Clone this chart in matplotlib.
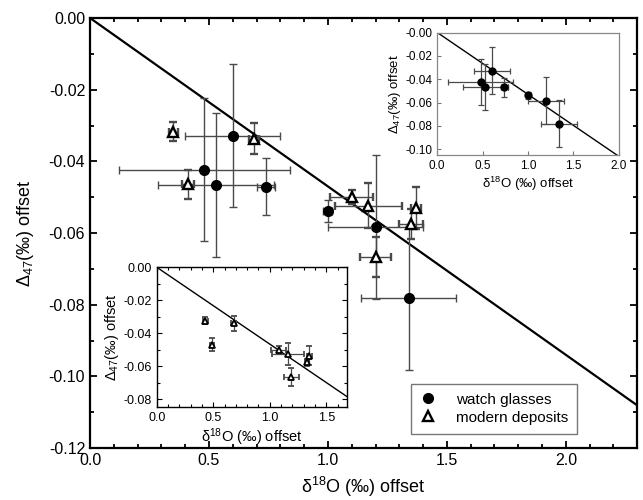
import matplotlib
matplotlib.use("Agg")
import matplotlib.pyplot as plt
from matplotlib.lines import Line2D
from matplotlib.ticker import MultipleLocator
import numpy as np

plt.rcParams["font.family"] = ["Liberation Sans", "DejaVu Sans"]
plt.rcParams["mathtext.fontset"] = "custom"
plt.rcParams["mathtext.rm"] = "Liberation Sans"
plt.rcParams["mathtext.it"] = "Liberation Sans:italic"

# watch glasses (filled circles)
glass_x = [0.48, 0.53, 0.60, 0.74, 1.00, 1.20, 1.34]
glass_y = [-0.0423, -0.0466, -0.0328, -0.0471, -0.0538, -0.0583, -0.0781]
glass_xerr = [0.36, 0.245, 0.20, 0.037, 0.019, 0.20, 0.20]
glass_yerr = [0.020, 0.020, 0.020, 0.008, 0.003, 0.020, 0.020]

# modern deposits (open triangles)
dep_x = [0.35, 0.41, 0.69, 1.10, 1.17, 1.20, 1.35, 1.37]
dep_y = [-0.0317, -0.0464, -0.0337, -0.0499, -0.0524, -0.0667, -0.0574, -0.0531]
dep_xerr = [0.019, 0.025, 0.02, 0.09, 0.14, 0.065, 0.05, 0.02]
dep_yerr = [0.0026, 0.004, 0.0043, 0.002, 0.0063, 0.0055, 0.0042, 0.0058]

# modern deposits as drawn in the lower inset
inset_dep_x = [0.43, 0.49, 0.68, 1.08, 1.16, 1.19, 1.33, 1.35]
inset_dep_y = [-0.0323, -0.047, -0.034, -0.050, -0.0527, -0.0667, -0.0576, -0.0535]
inset_dep_xerr = [0.02, 0.02, 0.02, 0.065, 0.14, 0.066, 0.02, 0.02]
inset_dep_yerr = [0.002, 0.004, 0.0044, 0.002, 0.0066, 0.0055, 0.002, 0.006]

# slopes of the reference lines through the origin
main_slope = -0.047
glass_slope = -0.053
dep_slope = -0.0466

XLABEL = "δ$^{18}$O (‰) offset"
YLABEL = "Δ$_{\\mathit{47}}$(‰) offset"
ERR_COLOR = "#4a4a4a"

fig = plt.figure(figsize=(6.43, 5.0), dpi=100)
ax = fig.add_axes([0.14, 0.104, 0.851, 0.86])

xs = np.array([0, 2.3])
ax.plot(xs, main_slope * xs, color="black", lw=1.6, zorder=2)
ax.errorbar(glass_x, glass_y, xerr=glass_xerr, yerr=glass_yerr, fmt="o", ms=7,
            color="black", ecolor=ERR_COLOR, elinewidth=1, capsize=3, capthick=1,
            zorder=3)
ax.errorbar(dep_x, dep_y, xerr=dep_xerr, yerr=dep_yerr, fmt="^", ms=6.5,
            mfc="white", mec="black", mew=1.7, ecolor=ERR_COLOR, elinewidth=1,
            capsize=3, capthick=1, zorder=4)

ax.set_xlim(0, 2.3)
ax.set_ylim(-0.12, 0.0)
ax.xaxis.set_major_locator(MultipleLocator(0.5))
ax.xaxis.set_minor_locator(MultipleLocator(0.1))
ax.yaxis.set_major_locator(MultipleLocator(0.02))
ax.yaxis.set_minor_locator(MultipleLocator(0.01))
ax.xaxis.set_major_formatter(lambda v, p: f"{v:.1f}")
ax.yaxis.set_major_formatter(lambda v, p: f"{v:.2f}")
ax.tick_params(which="both", direction="in", top=True, right=True, labelsize=11.5, width=1.3)
ax.tick_params(which="major", length=5)
ax.tick_params(which="minor", length=3)
for s in ax.spines.values():
    s.set_linewidth(1.6)
ax.set_xlabel(XLABEL, fontsize=13, labelpad=5)
ax.set_ylabel(YLABEL, fontsize=13, labelpad=9)

handles = [
    Line2D([], [], ls="none", marker="o", ms=7, color="black"),
    Line2D([], [], ls="none", marker="^", ms=6.5, mfc="white", mec="black", mew=1.7),
]
ax.legend(handles, ["watch glasses", "modern deposits"], loc="lower right",
          bbox_to_anchor=(0.89, 0.033), fontsize=11, frameon=True, fancybox=False,
          edgecolor="#555555", handlelength=1.0, handletextpad=1.3,
          borderpad=0.6, labelspacing=0.25, borderaxespad=0)

# upper inset: watch glasses
ax1 = fig.add_axes([0.680, 0.69, 0.282, 0.245])
xs1 = np.array([0, 2.0])
ax1.plot(xs1, glass_slope * xs1, color="black", lw=1.0, zorder=2)
ax1.errorbar(glass_x, glass_y, xerr=glass_xerr, yerr=glass_yerr, fmt="o", ms=5,
             color="black", ecolor=ERR_COLOR, elinewidth=0.9, capsize=2.5,
             capthick=0.9, zorder=3)
ax1.set_xlim(0, 2.0)
ax1.set_ylim(-0.105, 0.0)
ax1.xaxis.set_major_locator(MultipleLocator(0.5))
ax1.yaxis.set_major_locator(MultipleLocator(0.02))
ax1.xaxis.set_major_formatter(lambda v, p: f"{v:.1f}")
ax1.yaxis.set_major_formatter(lambda v, p: f"{v:.2f}")
ax1.tick_params(direction="in", labelsize=8.5, length=3, width=0.8, color="#777777")
for s in ax1.spines.values():
    s.set_color("#888888")
    s.set_linewidth(0.9)
ax1.set_xlabel(XLABEL, fontsize=9.5, labelpad=2)
ax1.set_ylabel(YLABEL, fontsize=9.5, labelpad=2)

# lower inset: modern deposits
ax2 = fig.add_axes([0.2437, 0.1866, 0.2955, 0.279])
xs2 = np.array([0, 1.68])
ax2.plot(xs2, dep_slope * xs2, color="black", lw=1.0, zorder=2)
ax2.errorbar(inset_dep_x, inset_dep_y, xerr=inset_dep_xerr, yerr=inset_dep_yerr,
             fmt="^", ms=5, mfc="white", mec="black", mew=1.3, ecolor=ERR_COLOR,
             elinewidth=0.9, capsize=2.5, capthick=0.9, zorder=3)
ax2.set_xlim(0, 1.68)
ax2.set_ylim(-0.0845, 0.0)
ax2.xaxis.set_major_locator(MultipleLocator(0.5))
ax2.xaxis.set_minor_locator(MultipleLocator(0.1))
ax2.yaxis.set_major_locator(MultipleLocator(0.02))
ax2.yaxis.set_minor_locator(MultipleLocator(0.01))
ax2.xaxis.set_major_formatter(lambda v, p: f"{v:.1f}")
ax2.yaxis.set_major_formatter(lambda v, p: f"{v:.2f}")
ax2.tick_params(which="both", direction="in", top=True, right=True, labelsize=9, width=0.8)
ax2.tick_params(which="major", length=3.5)
ax2.tick_params(which="minor", length=2)
for s in ax2.spines.values():
    s.set_linewidth(1.0)
ax2.set_xlabel(XLABEL, fontsize=10.5, labelpad=2)
ax2.set_ylabel(YLABEL, fontsize=10.5, labelpad=2)

fig.savefig("out.png", dpi=100)
